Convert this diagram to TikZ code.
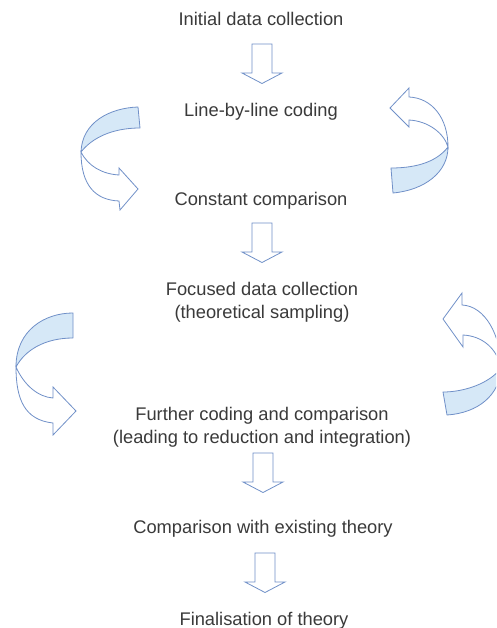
\documentclass[tikz,border=0pt]{standalone}
\usepackage{fontspec}
\setmainfont{Liberation Sans}
\definecolor{edgeblue}{HTML}{7090C8}
\definecolor{ribbonfill}{HTML}{D6E8F7}
\definecolor{txtgray}{HTML}{3A3A3A}
\begin{document}
\begin{tikzpicture}[x=1pt,y=-1pt,
  label/.style={anchor=base,inner sep=0pt,text=txtgray,align=center,
    font=\fontsize{18.3}{23.5}\selectfont},
  arrowline/.style={draw=edgeblue,line width=0.8pt,line join=miter,fill=white},
  shaded/.style={draw=edgeblue,line width=0.8pt,fill=ribbonfill,line join=round},
  plain/.style={draw=edgeblue,line width=0.8pt,fill=white,line join=miter},
  darrow/.pic={\path[arrowline] (-10,0) -- (10,0) -- (10,29) -- (20,29) -- (0,39.5) -- (-20,29) -- (-10,29) -- cycle;}
]
\useasboundingbox (0,0) rectangle (496,628);
\fill[white] (0,0) rectangle (496,628);

% text nodes (base anchor = baseline of the last line)
\node[label] (t1) at (261,26) {Initial data collection};
\node[label] (t2) at (261,117) {Line-by-line coding};
\node[label] (t3) at (261,205) {Constant comparison};
\node[label] (t4) at (262,318.5) {Focused data collection\\(theoretical sampling)};
\node[label] (t5) at (262,443.5) {Further coding and comparison\\(leading to reduction and integration)};
\node[label] (t6) at (263,533) {Comparison with existing theory};
\node[label] (t7) at (264,625) {Finalisation of theory};

% block down arrows
\pic at (262,44) {darrow};
\pic at (262,223) {darrow};
\pic at (263,453) {darrow};
\pic at (265,553) {darrow};

\begin{scope}
\clip (0,0) rectangle (496,628);
% upper left ribbon arrow
\path[shaded] (138,107) .. controls (110,108) and (82,122) .. (81,152)
   .. controls (92,138) and (112,128) .. (140,128) -- cycle;
\path[plain] (81,152) .. controls (88,166) and (102,174) .. (119,175)
   -- (119,168) -- (138,189) -- (120,210) -- (119,201)
   .. controls (95,200) and (81,185) .. (81,152) -- cycle;
% upper right ribbon arrow
\path[plain] (390,108) -- (409,88) -- (409,97)
   .. controls (432,98) and (448,118) .. (448,147)
   .. controls (444,133) and (428,121) .. (409,120) -- (409,127) -- cycle;
\path[shaded] (448,147) .. controls (448,172) and (425,190) .. (393,193)
   -- (391,168) .. controls (420,168) and (438,160) .. (448,147) -- cycle;
% lower left ribbon arrow
\path[shaded] (73,313) .. controls (45,313) and (16,330) .. (16,367)
   .. controls (25,350) and (45,338) .. (73,338) -- cycle;
\path[plain] (16,367) .. controls (24,385) and (38,397) .. (53,398)
   -- (53,387) -- (76,411) -- (53,435) -- (53,423)
   .. controls (25,420) and (16,400) .. (16,367) -- cycle;
% lower right ribbon arrow
\path[plain] (443,319) -- (462,293) -- (462,305)
   .. controls (485,306) and (501,335) .. (501,368)
   .. controls (497,348) and (482,336) .. (463,335) -- (463,347) -- cycle;
\path[shaded] (501,368) .. controls (500,395) and (478,413) .. (447,415)
   -- (443,392) .. controls (465,392) and (490,383) .. (501,368) -- cycle;
\end{scope}
\end{tikzpicture}
\end{document}
